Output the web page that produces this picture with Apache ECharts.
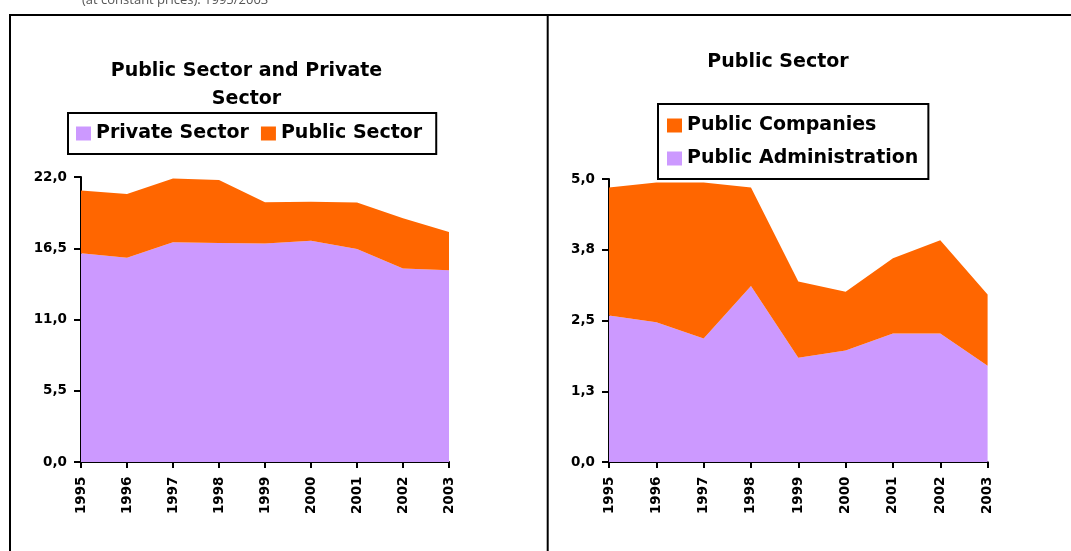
<!DOCTYPE html>
<html>
<head>
<meta charset="utf-8">
<script src="https://cdn.jsdelivr.net/npm/echarts/dist/echarts.min.js"></script>
<style>
  html, body { margin: 0; padding: 0; background: #ffffff; }
  #chart { width: 1071px; height: 551px; }
</style>
</head>
<body>
<div id="chart"></div>
<script>
// ---- data ----
const years = ['1995', '1996', '1997', '1998', '1999', '2000', '2001', '2002', '2003'];

// left panel: Public Sector and Private Sector
const privateSector = [16.12, 15.76, 16.97, 16.91, 16.86, 17.07, 16.45, 14.94, 14.81];
const publicSector  = [4.84, 4.93, 4.92, 4.86, 3.19, 3.01, 3.58, 3.88, 2.95];

// right panel: Public Sector
const publicAdministration = [2.59, 2.47, 2.18, 3.11, 1.84, 1.97, 2.27, 2.27, 1.70];
const publicCompanies      = [2.26, 2.47, 2.76, 1.74, 1.35, 1.04, 1.33, 1.65, 1.26];

// tick labels
const leftTickLabels  = ['0,0', '5,5', '11,0', '16,5', '22,0'];
const rightTickLabels = ['0,0', '1,3', '2,5', '3,8', '5,0'];

const leftTitle  = 'Public Sector and Private\nSector';
const rightTitle = 'Public Sector';
const headerText = '(at constant prices). 1995/2003';

// ---- styling ----
const PURPLE = '#CC99FF';
const ORANGE = '#FF6600';
const FONT = '"DejaVu Sans", Verdana, sans-serif';

function yAxis(gridIndex, max, interval, labels) {
  return {
    type: 'value', gridIndex, min: 0, max, interval,
    splitLine: { show: false },
    axisLine: { show: true, lineStyle: { color: '#000', width: 2 } },
    axisTick: { show: true, length: 7, lineStyle: { color: '#000', width: 2 } },
    axisLabel: {
      margin: 14, color: '#000', fontFamily: FONT, fontWeight: 'bold', fontSize: 13.5,
      formatter: (v, i) => labels[i] !== undefined ? labels[i] : ''
    }
  };
}
function xAxis(gridIndex) {
  return {
    type: 'category', gridIndex, data: years, boundaryGap: false,
    axisLine: { show: true, lineStyle: { color: '#000', width: 2 } },
    axisTick: { show: true, length: 6, interval: 0, lineStyle: { color: '#000', width: 2 } },
    axisLabel: {
      rotate: 90, margin: 14.5, interval: 0, color: '#000',
      fontFamily: FONT, fontWeight: 'bold', fontSize: 13.5
    }
  };
}
function area(name, data, color, xi, stack) {
  return {
    name, type: 'line', data, stack, xAxisIndex: xi, yAxisIndex: xi,
    symbol: 'none', smooth: false,
    lineStyle: { width: 0 },
    itemStyle: { color },
    areaStyle: { color, opacity: 1 },
    emphasis: { disabled: true },
    animation: false
  };
}
const legendText = { fontFamily: FONT, fontWeight: 'bold', fontSize: 19, color: '#000' };

const chart = echarts.init(document.getElementById('chart'), null, { renderer: 'canvas' });
chart.setOption({
  backgroundColor: '#fff',
  animation: false,
  grid: [
    { left: 81, top: 177, width: 368, height: 285 },
    { left: 609, top: 179, width: 378.6, height: 283 }
  ],
  xAxis: [xAxis(0), xAxis(1)],
  yAxis: [
    yAxis(0, 22, 5.5, leftTickLabels),
    yAxis(1, 5, 1.25, rightTickLabels)
  ],
  legend: [
    {
      data: ['Private Sector', 'Public Sector'],
      orient: 'horizontal', left: 68, top: 113,
      icon: 'rect', itemWidth: 15, itemHeight: 14, itemGap: 12,
      padding: [11, 14, 11, 8],
      borderColor: '#000', borderWidth: 2, backgroundColor: '#fff',
      textStyle: legendText, selectedMode: false
    },
    {
      data: ['Public Companies', 'Public Administration'],
      orient: 'vertical', left: 658, top: 104,
      icon: 'rect', itemWidth: 15, itemHeight: 14, itemGap: 14,
      padding: [12, 10, 11, 9],
      borderColor: '#000', borderWidth: 2, backgroundColor: '#fff',
      textStyle: legendText, selectedMode: false
    }
  ],
  series: [
    area('Private Sector', privateSector, PURPLE, 0, 'left'),
    area('Public Sector', publicSector, ORANGE, 0, 'left'),
    area('Public Administration', publicAdministration, PURPLE, 1, 'right'),
    area('Public Companies', publicCompanies, ORANGE, 1, 'right')
  ],
  graphic: [
    { type: 'line', silent: true, shape: { x1: 10, y1: 15, x2: 1071, y2: 15 }, style: { stroke: '#000', lineWidth: 2 } },
    { type: 'line', silent: true, shape: { x1: 10, y1: 14, x2: 10, y2: 551 }, style: { stroke: '#000', lineWidth: 2 } },
    { type: 'line', silent: true, shape: { x1: 547.7, y1: 14, x2: 547.7, y2: 551 }, style: { stroke: '#000', lineWidth: 2 } },
    { type: 'text', silent: true, x: 82, y: 0.5,
      style: { text: headerText, font: '13px "Open Sans", "Noto Sans", sans-serif', fill: '#555',
               align: 'left', verticalAlign: 'middle', textAlign: 'left', textVerticalAlign: 'middle' } },
    { type: 'text', silent: true, x: 246.5, y: 57.5,
      style: { text: leftTitle, font: 'bold 19px ' + FONT, fill: '#000', lineHeight: 28,
               align: 'center', verticalAlign: 'top', textAlign: 'center', textVerticalAlign: 'top' } },
    { type: 'text', silent: true, x: 778, y: 61.8,
      style: { text: rightTitle, font: 'bold 19px ' + FONT, fill: '#000',
               align: 'center', verticalAlign: 'middle', textAlign: 'center', textVerticalAlign: 'middle' } }
  ]
});
</script>
</body>
</html>
